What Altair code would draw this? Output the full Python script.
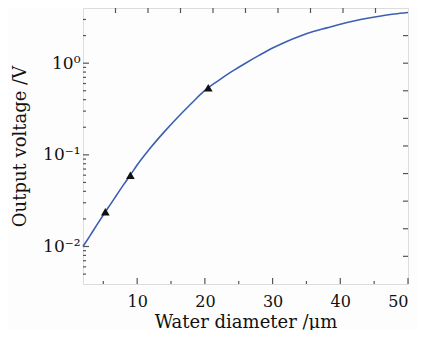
import altair as alt
import pandas as pd

# Curve
curve_x = [2, 3, 4, 5, 6, 7, 8, 9, 10, 12, 14, 16, 18, 20, 22, 24, 26, 28, 30,
           32, 34, 36, 38, 40, 42, 44, 46, 48, 50]
curve_v = [0.0100, 0.0130, 0.0170, 0.0221, 0.0285, 0.0367, 0.0473, 0.0603, 0.0776,
           0.120, 0.178, 0.257, 0.363, 0.505, 0.646, 0.813, 1.00, 1.216, 1.462,
           1.718, 1.972, 2.213, 2.427, 2.661, 2.884, 3.090, 3.273, 3.443, 3.573]

# Measured points (triangles)
pts_x = [5.3, 9.0, 20.5]
pts_v = [0.024, 0.060, 0.54]

# Tick positions
x_major = [10, 20, 30, 40, 50]
x_minor = [5, 15, 25, 35, 45]
x_top = [6.8, 11.6, 16.4, 21.2, 26.0, 30.8, 35.6, 40.4, 45.2]
y_major = [0.01, 0.1, 1]
y_minor = [0.005, 0.006, 0.007, 0.008, 0.009,
           0.02, 0.03, 0.04, 0.05, 0.06, 0.07, 0.08, 0.09,
           0.2, 0.3, 0.4, 0.5, 0.6, 0.7, 0.8, 0.9, 2, 3]
y_right = [2, 1, 0.5, 0.25, 0.125, 0.0625, 0.03125, 0.015625, 0.0078125]

W, H = 325, 276
FONT = "DejaVu Serif"
TICK = "#555555"

xs = alt.Scale(domain=[2, 50], nice=False, zero=False)
ys = alt.Scale(type="log", domain=[0.0039, 4.0], nice=False)

xaxis = alt.Axis(values=x_major, ticks=False, domain=False, grid=False,
                 labelPadding=9, titlePadding=4, labelFont=FONT, labelFontSize=16,
                 titleFont=FONT, titleFontSize=18, titleFontWeight="normal",
                 labelColor="#111", titleColor="#111")
yaxis = alt.Axis(values=y_major, ticks=False, domain=False, grid=False,
                 labelExpr="datum.value == 1 ? '10⁰' : (datum.value > 0.05 ? '10⁻¹' : '10⁻²')",
                 labelPadding=3, titlePadding=13, labelFont=FONT, labelFontSize=17,
                 titleFont=FONT, titleFontSize=18, titleFontWeight="normal",
                 labelColor="#111", titleColor="#111")

curve_df = pd.DataFrame({"x": curve_x, "v": curve_v})
pts_df = pd.DataFrame({"x": pts_x, "v": pts_v})

line = alt.Chart(curve_df).mark_line(color="#3d5fb3", strokeWidth=1.6, interpolate="monotone").encode(
    x=alt.X("x:Q", scale=xs, axis=xaxis, title="Water diameter /μm"),
    y=alt.Y("v:Q", scale=ys, axis=yaxis, title="Output voltage /V"),
)

points = alt.Chart(pts_df).mark_point(shape="triangle-up", filled=True, color="#111111",
                                      size=75, opacity=1).encode(
    x=alt.X("x:Q", scale=xs),
    y=alt.Y("v:Q", scale=ys),
)

def xticks(vals, length, top=False):
    df = pd.DataFrame({"x": vals})
    if top:
        yy, yy2 = alt.value(0), alt.value(length)
    else:
        yy, yy2 = alt.value(H), alt.value(H - length)
    return alt.Chart(df).mark_rule(color=TICK, strokeWidth=1.2).encode(
        x=alt.X("x:Q", scale=xs), y=yy, y2=yy2)

def yticks(vals, length, right=False):
    df = pd.DataFrame({"v": vals})
    if right:
        xx, xx2 = alt.value(W), alt.value(W - length)
    else:
        xx, xx2 = alt.value(0), alt.value(length)
    return alt.Chart(df).mark_rule(color=TICK, strokeWidth=1.2).encode(
        y=alt.Y("v:Q", scale=ys), x=xx, x2=xx2)

chart = alt.layer(
    xticks(x_major, 6), xticks(x_minor, 3), xticks(x_top, 5, top=True),
    yticks(y_major, 6), yticks(y_minor, 3), yticks(y_right, 5, right=True),
    line, points,
).properties(
    width=W, height=H,
    autosize=alt.AutoSizeParams(type="none"),
    padding={"left": 75, "top": 0, "right": 10, "bottom": 46},
).configure_view(
    stroke="#555555", strokeWidth=1.5,
).configure(background="#fdfdfd")

chart.save("out.html", embed_options={"renderer": "svg", "actions": False})
